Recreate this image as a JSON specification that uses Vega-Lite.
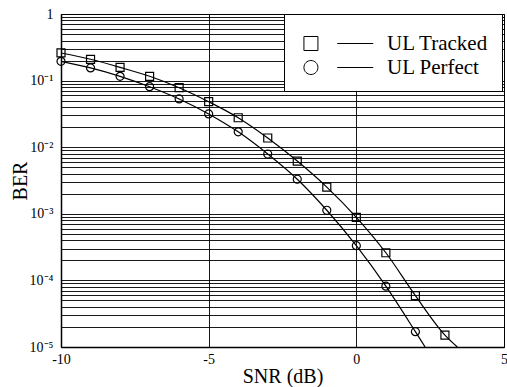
{
  "$schema": "https://vega.github.io/schema/vega-lite/v6.json",
  "width": 443,
  "height": 333,
  "autosize": {"type": "none"},
  "padding": {"left": 61, "top": 14, "right": 3, "bottom": 40},
  "config": {
    "font": "Liberation Serif",
    "view": {"stroke": "black", "strokeWidth": 1},
    "axis": {
      "labelFont": "Liberation Serif",
      "labelFontSize": 14,
      "labelColor": "black",
      "titleFont": "Liberation Serif",
      "titleFontSize": 20,
      "titleFontWeight": "normal",
      "titleColor": "black",
      "ticks": false,
      "domainColor": "black",
      "domainWidth": 1.5,
      "gridColor": "black",
      "gridOpacity": 1,
      "gridWidth": 0.9
    },
    "legend": {
      "labelFont": "Liberation Serif",
      "labelFontSize": 21,
      "labelColor": "black",
      "titleFont": "Liberation Serif",
      "titleFontSize": 4,
      "titlePadding": 2,
      "strokeColor": "black",
      "fillColor": "white",
      "padding": 13,
      "symbolSize": 196,
      "symbolStrokeWidth": 1,
      "symbolStrokeColor": "black",
      "symbolFillColor": "transparent",
      "symbolOpacity": 1,
      "labelOffset": 69,
      "rowPadding": 2
    }
  },
  "data": {
    "values": [
      {"snr": -10, "ber": 0.26, "series": "UL Tracked", "marker": true},
      {"snr": -9, "ber": 0.209, "series": "UL Tracked", "marker": true},
      {"snr": -8, "ber": 0.158, "series": "UL Tracked", "marker": true},
      {"snr": -7, "ber": 0.116, "series": "UL Tracked", "marker": true},
      {"snr": -6, "ber": 0.0782, "series": "UL Tracked", "marker": true},
      {"snr": -5, "ber": 0.0482, "series": "UL Tracked", "marker": true},
      {"snr": -4, "ber": 0.0277, "series": "UL Tracked", "marker": true},
      {"snr": -3, "ber": 0.01375, "series": "UL Tracked", "marker": true},
      {"snr": -2, "ber": 0.0062, "series": "UL Tracked", "marker": true},
      {"snr": -1, "ber": 0.00252, "series": "UL Tracked", "marker": true},
      {"snr": 0, "ber": 0.000886, "series": "UL Tracked", "marker": true},
      {"snr": 1, "ber": 0.00026, "series": "UL Tracked", "marker": true},
      {"snr": 2, "ber": 0.000059, "series": "UL Tracked", "marker": true},
      {"snr": 3, "ber": 0.0000151, "series": "UL Tracked", "marker": true},
      {"snr": 3.42, "ber": 0.00001, "series": "UL Tracked", "marker": false},
      {"snr": -10, "ber": 0.195, "series": "UL Perfect", "marker": true},
      {"snr": -9, "ber": 0.155, "series": "UL Perfect", "marker": true},
      {"snr": -8, "ber": 0.116, "series": "UL Perfect", "marker": true},
      {"snr": -7, "ber": 0.081, "series": "UL Perfect", "marker": true},
      {"snr": -6, "ber": 0.053, "series": "UL Perfect", "marker": true},
      {"snr": -5, "ber": 0.0316, "series": "UL Perfect", "marker": true},
      {"snr": -4, "ber": 0.017, "series": "UL Perfect", "marker": true},
      {"snr": -3, "ber": 0.0079, "series": "UL Perfect", "marker": true},
      {"snr": -2, "ber": 0.0033, "series": "UL Perfect", "marker": true},
      {"snr": -1, "ber": 0.00113, "series": "UL Perfect", "marker": true},
      {"snr": 0, "ber": 0.000332, "series": "UL Perfect", "marker": true},
      {"snr": 1, "ber": 0.000082, "series": "UL Perfect", "marker": true},
      {"snr": 2, "ber": 0.000017, "series": "UL Perfect", "marker": true},
      {"snr": 2.33, "ber": 0.00001, "series": "UL Perfect", "marker": false}
    ]
  },
  "encoding": {
    "x": {
      "field": "snr",
      "type": "quantitative",
      "scale": {"domain": [-10, 5], "nice": false, "zero": false},
      "axis": {
        "title": "SNR (dB)",
        "values": [-10, -5, 0, 5],
        "labelFont": "Liberation Serif",
        "titleFont": "Liberation Serif",
        "labelPadding": 5,
        "titlePadding": 0,
        "labelFlush": false,
        "labelOverlap": false,
        "labelExpr": "'' + datum.value"
      }
    },
    "y": {
      "field": "ber",
      "type": "quantitative",
      "scale": {"type": "log", "domain": [0.00001, 1], "nice": false},
      "axis": {
        "title": "BER",
        "labelFont": "Liberation Serif",
        "titleFont": "Liberation Serif",
        "titlePadding": -1,
        "labelPadding": 8,
        "labelOverlap": false,
        "labelFlush": false,
        "values": [0.00001, 0.00002, 0.00003, 0.00004, 0.00005, 0.00006, 0.00007, 0.00008, 0.00009,
                   0.0001, 0.0002, 0.0003, 0.0004, 0.0005, 0.0006, 0.0007, 0.0008, 0.0009,
                   0.001, 0.002, 0.003, 0.004, 0.005, 0.006, 0.007, 0.008, 0.009,
                   0.01, 0.02, 0.03, 0.04, 0.05, 0.06, 0.07, 0.08, 0.09,
                   0.1, 0.2, 0.3, 0.4, 0.5, 0.6, 0.7, 0.8, 0.9, 1],
        "labelExpr": "(abs(log(datum.value)/LN10 - round(log(datum.value)/LN10)) > 0.001) ? '' : datum.value > 0.5 ? '1' : datum.value > 0.05 ? '10⁻¹' : datum.value > 0.005 ? '10⁻²' : datum.value > 0.0005 ? '10⁻³' : datum.value > 0.00005 ? '10⁻⁴' : '10⁻⁵'"
      }
    }
  },
  "layer": [
    {
      "mark": {"type": "line", "color": "black", "strokeWidth": 1.2, "interpolate": "monotone", "clip": true},
      "encoding": {"detail": {"field": "series"}}
    },
    {
      "transform": [{"filter": "datum.marker"}],
      "mark": {"type": "point", "filled": false, "color": "black", "strokeWidth": 1.2, "size": 64, "opacity": 1},
      "encoding": {
        "shape": {
          "field": "series",
          "type": "nominal",
          "scale": {"domain": ["UL Tracked", "UL Perfect"], "range": ["square", "circle"]},
          "legend": null
        }
      }
    },
    {
      "transform": [{"filter": "datum.snr > 100"}],
      "mark": {"type": "point", "filled": false, "color": "black", "strokeWidth": 1, "opacity": 0},
      "encoding": {
        "shape": {
          "field": "series",
          "type": "nominal",
          "scale": {"domain": ["UL Tracked", "UL Perfect"], "range": ["M-0.51,-1H1.49V1H-0.51Z M4.24,0H9.39", "M-0.51,0A1,1 0 1,0 1.49,0A1,1 0 1,0 -0.51,0Z M4.24,0H9.39"]},
          "legend": {
            "title": " ",
            "orient": "none",
            "legendX": 223,
            "legendY": 0
          }
        }
      }
    }
  ],
  "resolve": {"scale": {"shape": "independent"}}
}
